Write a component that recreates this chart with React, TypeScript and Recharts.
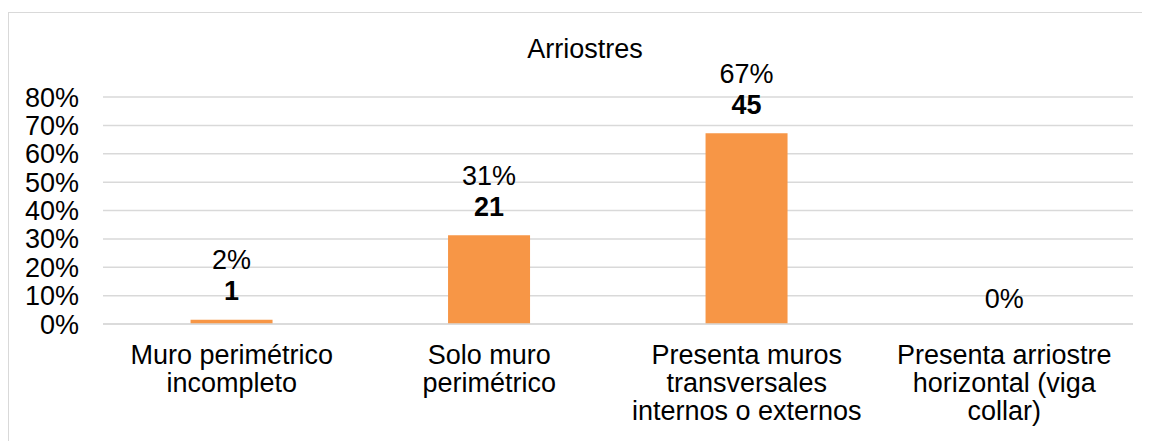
import { Bar, BarChart, CartesianGrid, LabelList, ReferenceDot, XAxis, YAxis } from 'recharts'

const categories = [
  'Muro perimétrico incompleto',
  'Solo muro perimétrico',
  'Presenta muros transversales internos o externos',
  'Presenta arriostre horizontal (viga collar)',
]
const tickLines = [
  ['Muro perimétrico', 'incompleto'],
  ['Solo muro', 'perimétrico'],
  ['Presenta muros', 'transversales', 'internos o externos'],
  ['Presenta arriostre', 'horizontal (viga', 'collar)'],
]
const percents = [1.5, 31.3, 67.2, 0]
const percentLabels = ['2%', '31%', '67%', '0%']
const counts = [1, 21, 45, 0]
const yTicks = [0, 10, 20, 30, 40, 50, 60, 70, 80]

const data = categories.map((name, i) => ({
  name,
  pct: percents[i],
  pctLabel: percentLabels[i],
  count: counts[i],
}))

const FONT = '"Liberation Sans", Arial, sans-serif'
const FS = 27

function YTick({ x, y, payload }: any) {
  return (
    <text x={x - 16} y={y} dy={9.5} textAnchor="end" fontSize={FS} fontFamily={FONT} fill="#000">
      {payload.value}%
    </text>
  )
}

function XTick({ x, y, payload }: any) {
  const lines = tickLines[categories.indexOf(payload.value)] || [payload.value]
  return (
    <text x={x} y={y} textAnchor="middle" fontSize={FS} fontFamily={FONT} fill="#000">
      {lines.map((line, i) => (
        <tspan key={i} x={x} y={y + 32 + i * 28}>
          {line}
        </tspan>
      ))}
    </text>
  )
}

function BarLabel({ x, y, width, index }: any) {
  const cx = x + width / 2
  const count = counts[index]
  if (!count) return null
  return (
    <g>
      <text x={cx} y={y - 60 + 9.5} textAnchor="middle" fontSize={FS} fontFamily={FONT} fill="#000">
        {percentLabels[index]}
      </text>
      <text x={cx} y={y - 29 + 9.5} textAnchor="middle" fontSize={FS} fontWeight="bold" fontFamily={FONT} fill="#000">
        {count}
      </text>
    </g>
  )
}

// zero-height bars get no LabelList entry, so their label is drawn from a dot
function zeroLabel(i: number) {
  return (props: any) => {
    const vb = props.viewBox || {}
    const cx = vb.x + (vb.width || 0) / 2
    const cy = vb.y + (vb.height || 0) / 2
    return (
      <text x={cx} y={cy - 26 + 9.5} textAnchor="middle" fontSize={FS} fontFamily={FONT} fill="#000">
        {percentLabels[i]}
      </text>
    )
  }
}

export default function App() {
  return (
    <div style={{ paddingTop: 4 }}>
      <div
        style={{
          position: 'relative',
          width: 1142,
          height: 440,
          borderTop: '1px solid #d9d9d9',
          borderLeft: '1px solid #d9d9d9',
          boxSizing: 'border-box',
          fontFamily: FONT,
        }}
      >
        <div
          style={{
            position: 'absolute',
            top: 21,
            left: 0,
            width: 1152,
            textAlign: 'center',
            fontSize: FS,
            lineHeight: '30px',
            color: '#000',
          }}
        >
          Arriostres
        </div>
        <BarChart
          width={1139}
          height={428}
          data={data}
          margin={{ top: 84, right: 15, left: 0, bottom: 0 }}
          barCategoryGap="34%"
        >
          <CartesianGrid vertical={false} stroke="#d9d9d9" strokeWidth={1.5} />
          <XAxis
            dataKey="name"
            height={117}
            interval={0}
            tickLine={false}
            axisLine={{ stroke: '#d9d9d9', strokeWidth: 1.5 }}
            tick={<XTick />}
          />
          <YAxis
            width={94}
            domain={[0, 80]}
            ticks={yTicks}
            interval={0}
            tickLine={false}
            axisLine={false}
            tick={<YTick />}
          />
          <Bar dataKey="pct" fill="#F79646" isAnimationActive={false}>
            <LabelList dataKey="pct" content={<BarLabel />} />
          </Bar>
          {data.map((d, i) =>
            d.pct === 0 ? (
              <ReferenceDot
                key={d.name}
                x={d.name}
                y={0}
                r={1}
                fill="none"
                stroke="none"
                label={zeroLabel(i)}
              />
            ) : null
          )}
        </BarChart>
      </div>
    </div>
  )
}
